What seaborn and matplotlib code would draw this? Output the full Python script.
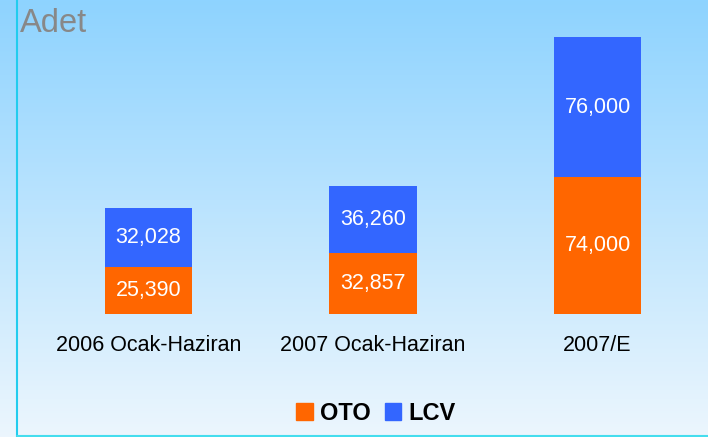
import numpy as np
import pandas as pd
import matplotlib
matplotlib.use("Agg")
import matplotlib.pyplot as plt
import seaborn as sns
from matplotlib.patches import Patch

# Data
categories = ["2006 Ocak-Haziran", "2007 Ocak-Haziran", "2007/E"]
oto = [25390, 32857, 74000]
lcv = [32028, 36260, 76000]

df = pd.DataFrame({"period": categories, "OTO": oto, "LCV": lcv})
df["total"] = df["OTO"] + df["LCV"]

sns.set_style("white")
plt.rcParams["font.family"] = ["Liberation Sans", "DejaVu Sans"]

fig = plt.figure(figsize=(7.08, 4.37), dpi=100)
ax = fig.add_axes([0, 0, 1, 1])

# gradient background
grad = np.linspace(0, 1, 256).reshape(-1, 1, 1)
top = np.array([0x8E, 0xD3, 0xFF]) / 255
bot = np.array([0xEC, 0xF6, 0xFD]) / 255
img = top + (bot - top) * grad

xlim = (-0.6615, 2.492)
ylim = (-66600, 170000)
ax.imshow(img, extent=[xlim[0], xlim[1], ylim[0], ylim[1]], aspect="auto", zorder=0)

orange = "#FF6600"
blue = "#3366FF"

sns.barplot(data=df, x="period", y="total", color=blue, width=0.388,
            saturation=1, linewidth=0, ax=ax, zorder=2)
sns.barplot(data=df, x="period", y="OTO", color=orange, width=0.388,
            saturation=1, linewidth=0, ax=ax, zorder=3)

ax.set_xlim(*xlim)
ax.set_ylim(*ylim)

for i in range(len(categories)):
    ax.text(i, oto[i] / 2, f"{oto[i]:,}", ha="center", va="center",
            color="white", fontsize=15.5, zorder=4)
    ax.text(i, oto[i] + lcv[i] / 2, f"{lcv[i]:,}", ha="center", va="center",
            color="white", fontsize=15.5, zorder=4)
    ax.text(i, -17000, categories[i], ha="center", va="center",
            color="black", fontsize=15.5, zorder=4)

ax.set_axis_off()

fig.text(20 / 708, 1 - 23 / 437, "Adet", fontsize=23.5, color="#888888",
         ha="left", va="center")

# frame lines
fig.add_artist(plt.Line2D([16.5 / 708, 16.5 / 708], [0, 1], color="#22CCEE", lw=1.5))
fig.add_artist(plt.Line2D([16.5 / 708, 1], [1.2 / 437, 1.2 / 437], color="#44DDEE", lw=1.5))

handles = [Patch(color=orange, label="OTO"), Patch(color=blue, label="LCV")]
leg = fig.legend(handles=handles, loc="center", bbox_to_anchor=(376 / 708, 1 - 413 / 437),
                 ncol=2, frameon=False, prop={"weight": "bold", "size": 17},
                 labelcolor="black",
                 handlelength=0.7, handleheight=0.7, handletextpad=0.3, columnspacing=0.6)

fig.savefig("out.png", dpi=100)
